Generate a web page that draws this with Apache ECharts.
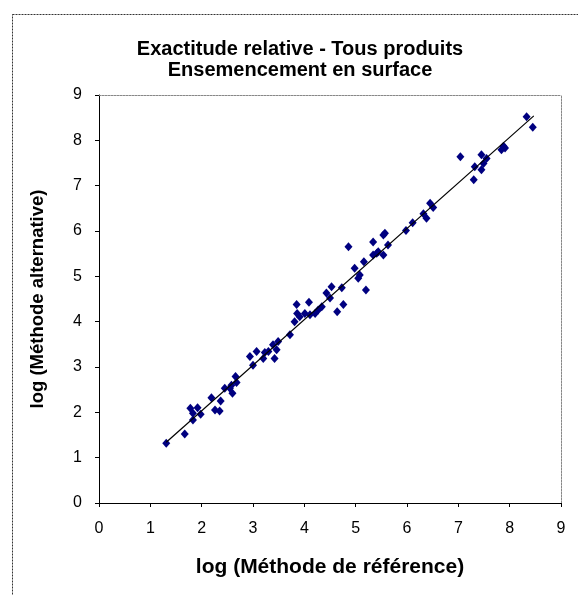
<!DOCTYPE html>
<html>
<head>
<meta charset="utf-8">
<script src="https://cdn.jsdelivr.net/npm/echarts@6/dist/echarts.min.js"></script>
<style>
  html, body { margin: 0; padding: 0; background: #fff; }
  #chart { width: 578px; height: 595px; }
</style>
</head>
<body>
<div id="chart"></div>
<script>
// log (Méthode de référence) / log (Méthode alternative)
const refX = [
  1.31, 1.67, 1.78, 1.92, 1.83, 1.98, 1.83, 2.19, 2.26, 2.35, 2.37,
  2.45, 2.55, 2.60, 2.66, 2.68, 2.58, 2.94, 3.07, 3.23, 3.00,
  3.20, 3.30, 3.42, 3.39, 3.49, 3.46, 3.72, 3.81, 3.86, 3.85, 3.91,
  4.09, 4.01, 4.11, 4.21, 4.27, 4.34, 4.43, 4.50, 4.53, 4.64, 4.76,
  4.73, 4.86, 4.98, 5.05, 5.08, 5.16, 5.20, 5.34, 5.44,
  5.34, 5.41, 5.54, 5.54, 5.57, 5.63, 5.98, 6.11, 6.32, 6.38,
  6.45, 6.51, 7.04, 7.30, 7.32, 7.45, 7.49, 7.55, 7.45,
  7.88, 7.91, 7.84, 8.33, 8.45
];
const altY = [
  1.32, 1.52, 2.09, 2.10, 1.98, 1.96, 1.83, 2.32, 2.05, 2.03, 2.25,
  2.53, 2.53, 2.42, 2.79, 2.66, 2.60, 3.23, 3.34, 3.32, 3.04,
  3.19, 3.34, 3.19, 3.49, 3.56, 3.38, 3.71, 4.00, 4.18, 4.38, 4.11,
  4.43, 4.18, 4.15, 4.18, 4.26, 4.33, 4.63, 4.52, 4.77, 4.22, 4.38,
  4.75, 5.65, 5.18, 4.96, 5.03, 5.32, 4.70, 5.47, 5.54,
  5.76, 5.51, 5.47, 5.91, 5.95, 5.69, 6.01, 6.18, 6.38, 6.28,
  6.61, 6.52, 7.64, 7.13, 7.42, 7.68, 7.49, 7.60, 7.35,
  7.87, 7.83, 7.79, 8.52, 8.29
];
// trend line end points
const trendX = [1.31, 8.47];
const trendY = [1.34, 8.54];
const axisTicks = [0, 1, 2, 3, 4, 5, 6, 7, 8, 9];

const font = 'Liberation Sans, Arial, sans-serif';
const points = refX.map((x, i) => [x, altY[i]]);
const trend = trendX.map((x, i) => [x, trendY[i]]);

const chart = echarts.init(document.getElementById('chart'), null, { renderer: 'canvas' });

const baseAxis = {
  type: 'value',
  min: axisTicks[0],
  max: axisTicks[axisTicks.length - 1],
  interval: 1,
  splitLine: { show: false },
  axisLine: { show: true, onZero: false, lineStyle: { color: '#000', width: 1 } },
  axisTick: { show: true, inside: false, length: 4, lineStyle: { color: '#000' } },
  axisLabel: { color: '#000', fontSize: 16, fontFamily: font },
  nameLocation: 'middle',
  nameTextStyle: { color: '#000', fontWeight: 'bold', fontFamily: font }
};

const frameAxis = {
  type: 'value', min: 0, max: 9, interval: 1,
  axisLine: { show: true, onZero: false, lineStyle: { color: '#888', type: [2, 1], width: 1 } },
  axisTick: { show: false }, axisLabel: { show: false }, splitLine: { show: false }
};

chart.setOption({
  animation: false,
  backgroundColor: '#fff',
  title: {
    text: 'Exactitude relative - Tous produits\nEnsemencement en surface',
    left: 295, top: 34, textAlign: 'center',
    textStyle: { color: '#000', fontSize: 20, fontWeight: 'bold', fontFamily: font, lineHeight: 21 }
  },
  graphic: [{
    type: 'rect',
    shape: { x: 12.5, y: 14.5, width: 700, height: 700 },
    style: { fill: 'none', stroke: '#333', lineWidth: 1, lineDash: [2, 1] },
    silent: true
  }],
  grid: { left: 99, top: 95, right: 17, bottom: 92, containLabel: false },
  xAxis: [
    Object.assign({}, baseAxis, {
      name: 'log (Méthode de référence)', nameGap: 54,
      nameTextStyle: Object.assign({}, baseAxis.nameTextStyle, { fontSize: 21 }),
      axisLabel: Object.assign({}, baseAxis.axisLabel, { margin: 18 })
    }),
    Object.assign({}, frameAxis, { position: 'top' })
  ],
  yAxis: [
    Object.assign({}, baseAxis, {
      name: 'log (Méthode alternative)', nameGap: 52,
      nameTextStyle: Object.assign({}, baseAxis.nameTextStyle, { fontSize: 18.5 }),
      axisLabel: Object.assign({}, baseAxis.axisLabel, { margin: 17 })
    }),
    Object.assign({}, frameAxis, { position: 'right' })
  ],
  series: [
    {
      type: 'line',
      data: trend,
      showSymbol: false,
      lineStyle: { color: '#000', width: 1.2 },
      z: 3
    },
    {
      type: 'scatter',
      data: points,
      symbol: 'diamond',
      symbolSize: [8, 9],
      itemStyle: { color: '#000080', opacity: 1 },
      z: 2
    }
  ]
});
</script>
</body>
</html>
